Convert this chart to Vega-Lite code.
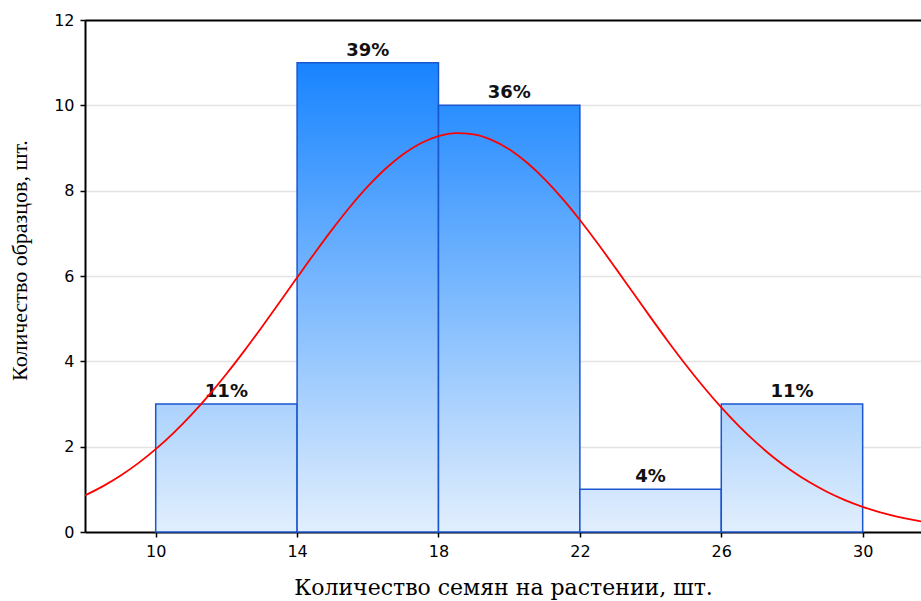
{
  "$schema": "https://vega.github.io/schema/vega-lite/v6.json",
  "width": 836,
  "height": 512,
  "autosize": {"type": "none"},
  "padding": {"left": 85, "top": 20, "right": 0, "bottom": 69},
  "background": "white",
  "view": {"stroke": null},
  "config": {
    "axis": {
      "labelFont": "DejaVu Sans",
      "labelFontSize": 16,
      "labelColor": "#000000",
      "titleFont": "Liberation Serif",
      "titleFontSize": 22,
      "titleFontWeight": "normal",
      "titleColor": "#000000",
      "domainColor": "#000000",
      "domainWidth": 2,
      "tickColor": "#000000",
      "tickWidth": 1.5,
      "tickSize": 5,
      "labelPadding": 4
    }
  },
  "datasets": {
    "bins": [
      {"start": 10, "end": 14, "mid": 12, "count": 3, "label": "11%"},
      {"start": 14, "end": 18, "mid": 16, "count": 11, "label": "39%"},
      {"start": 18, "end": 22, "mid": 20, "count": 10, "label": "36%"},
      {"start": 22, "end": 26, "mid": 24, "count": 1, "label": "4%"},
      {"start": 26, "end": 30, "mid": 28, "count": 3, "label": "11%"}
    ],
    "normal": [
      {"x": 8, "y": 0.858}, {"x": 8.5, "y": 1.069}, {"x": 9, "y": 1.318}, {"x": 9.5, "y": 1.608},
      {"x": 10, "y": 1.941}, {"x": 10.5, "y": 2.318}, {"x": 11, "y": 2.739}, {"x": 11.5, "y": 3.202},
      {"x": 12, "y": 3.704}, {"x": 12.5, "y": 4.239}, {"x": 13, "y": 4.801}, {"x": 13.5, "y": 5.379},
      {"x": 14, "y": 5.963}, {"x": 14.5, "y": 6.541}, {"x": 15, "y": 7.099}, {"x": 15.5, "y": 7.623},
      {"x": 16, "y": 8.099}, {"x": 16.5, "y": 8.513}, {"x": 17, "y": 8.855}, {"x": 17.5, "y": 9.113},
      {"x": 18, "y": 9.279}, {"x": 18.5, "y": 9.348}, {"x": 19, "y": 9.318}, {"x": 19.5, "y": 9.19},
      {"x": 20, "y": 8.969}, {"x": 20.5, "y": 8.659}, {"x": 21, "y": 8.273}, {"x": 21.5, "y": 7.819},
      {"x": 22, "y": 7.313}, {"x": 22.5, "y": 6.767}, {"x": 23, "y": 6.196}, {"x": 23.5, "y": 5.613},
      {"x": 24, "y": 5.03}, {"x": 24.5, "y": 4.461}, {"x": 25, "y": 3.915}, {"x": 25.5, "y": 3.399},
      {"x": 26, "y": 2.919}, {"x": 26.5, "y": 2.481}, {"x": 27, "y": 2.087}, {"x": 27.5, "y": 1.736},
      {"x": 28, "y": 1.429}, {"x": 28.5, "y": 1.164}, {"x": 29, "y": 0.938}, {"x": 29.5, "y": 0.748},
      {"x": 30, "y": 0.59}, {"x": 30.5, "y": 0.461}, {"x": 31, "y": 0.356}, {"x": 31.5, "y": 0.272},
      {"x": 32, "y": 0.206}
    ]
  },
  "resolve": {"axis": {"x": "independent"}},
  "layer": [
    {
      "data": {"name": "bins"},
      "mark": {"type": "bar", "stroke": "#1a56d0", "strokeWidth": 1.5},
      "encoding": {
        "x": {
          "field": "start", "type": "quantitative",
          "scale": {"domain": [8, 31.65], "nice": false, "zero": false},
          "axis": {
            "values": [10, 14, 18, 22, 26, 30],
            "grid": false,
            "title": "Количество семян на растении, шт.",
            "titleFont": "DejaVu Serif",
            "titleFontSize": 22,
            "titlePadding": 18,
            "labelPadding": 6
          }
        },
        "x2": {"field": "end"},
        "y": {
          "field": "count", "type": "quantitative",
          "scale": {"domain": [0, 12], "nice": false},
          "axis": {
            "values": [0, 2, 4, 6, 8, 10, 12],
            "grid": true,
            "gridColor": "#e4e4e4",
            "gridWidth": 1.5,
            "title": "Количество образцов, шт.",
            "titleY": 240,
            "titlePadding": 22,
            "labelPadding": 6
          }
        },
        "y2": {"datum": 0},
        "fill": {
          "condition": [
            {"test": "datum.count == 11", "value": {"gradient": "linear", "x1": 0, "y1": 0, "x2": 0, "y2": 1, "stops": [{"offset": 0, "color": "#1884ff"}, {"offset": 1, "color": "#e2effd"}]}},
            {"test": "datum.count == 10", "value": {"gradient": "linear", "x1": 0, "y1": 0, "x2": 0, "y2": 1, "stops": [{"offset": 0, "color": "#2a8eff"}, {"offset": 1, "color": "#e2effd"}]}},
            {"test": "datum.count == 1", "value": {"gradient": "linear", "x1": 0, "y1": 0, "x2": 0, "y2": 1, "stops": [{"offset": 0, "color": "#d0e5fd"}, {"offset": 1, "color": "#e2effd"}]}}
          ],
          "value": {"gradient": "linear", "x1": 0, "y1": 0, "x2": 0, "y2": 1, "stops": [{"offset": 0, "color": "#abd2fd"}, {"offset": 1, "color": "#e2effd"}]}
        }
      }
    },
    {
      "data": {"name": "bins"},
      "mark": {"type": "text", "font": "DejaVu Sans", "fontWeight": "bold", "fontSize": 18, "color": "#111111", "baseline": "bottom", "dy": -3},
      "encoding": {
        "x": {"field": "mid", "type": "quantitative", "axis": null},
        "y": {"field": "count", "type": "quantitative"},
        "text": {"field": "label", "type": "nominal"}
      }
    },
    {
      "data": {"name": "normal"},
      "mark": {"type": "line", "color": "#ff0000", "strokeWidth": 1.8, "interpolate": "monotone", "clip": true},
      "encoding": {
        "x": {
          "field": "x", "type": "quantitative",
          "axis": {"orient": "top", "labels": false, "ticks": false, "grid": false, "title": null, "domainWidth": 2}
        },
        "y": {"field": "y", "type": "quantitative"}
      }
    }
  ]
}
